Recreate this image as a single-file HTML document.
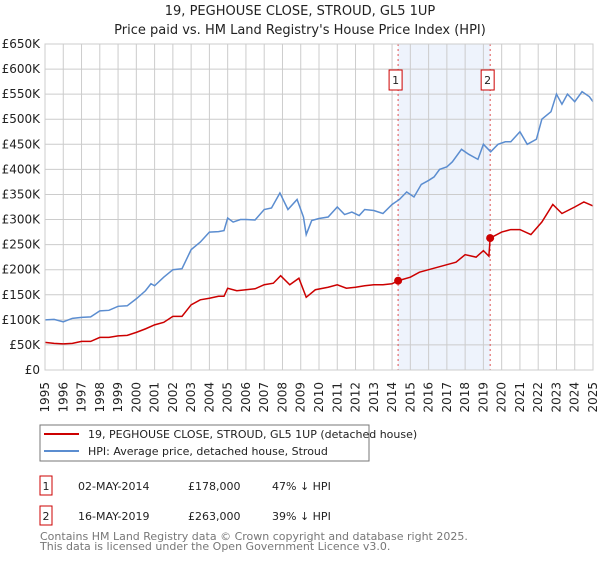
<!DOCTYPE html>
<html><head><meta charset="utf-8"><style>
body{margin:0;background:#fff;width:600px;height:560px;overflow:hidden;font-family:"DejaVu Sans","Liberation Sans",sans-serif}
svg text{font-family:"DejaVu Sans","Liberation Sans",sans-serif}
</style></head><body>
<svg id="chart" width="600" height="560">
<text x="300" y="15" text-anchor="middle" font-size="13" fill="#222">19, PEGHOUSE CLOSE, STROUD, GL5 1UP</text>
<text x="300" y="34" text-anchor="middle" font-size="13" fill="#222">Price paid vs. HM Land Registry's House Price Index (HPI)</text>
<g id="plot"></g>
<rect x="40" y="425" width="329" height="36" fill="#fff" stroke="#777"/>
<line x1="44" y1="434" x2="79" y2="434" stroke="#cc0000" stroke-width="2"/>
<text x="88" y="438" font-size="11" fill="#222">19, PEGHOUSE CLOSE, STROUD, GL5 1UP (detached house)</text>
<line x1="44" y1="451" x2="79" y2="451" stroke="#5b8dd0" stroke-width="2"/>
<text x="88" y="455" font-size="11" fill="#222">HPI: Average price, detached house, Stroud</text>
<g>
<rect x="40" y="476" width="12" height="19" fill="#fff" stroke="#cc0000"/>
<text x="46" y="490" text-anchor="middle" font-size="11" fill="#222">1</text>
<text x="78" y="490" font-size="11" fill="#222">02-MAY-2014</text>
<text x="188" y="490" font-size="11" fill="#222">£178,000</text>
<text x="272" y="490" font-size="11" fill="#222">47% ↓ HPI</text>
</g>
<g>
<rect x="40" y="506" width="12" height="19" fill="#fff" stroke="#cc0000"/>
<text x="46" y="520" text-anchor="middle" font-size="11" fill="#222">2</text>
<text x="78" y="520" font-size="11" fill="#222">16-MAY-2019</text>
<text x="188" y="520" font-size="11" fill="#222">£263,000</text>
<text x="272" y="520" font-size="11" fill="#222">39% ↓ HPI</text>
</g>
<text x="40" y="540" font-size="11" fill="#777">Contains HM Land Registry data © Crown copyright and database right 2025.</text>
<text x="40" y="550" font-size="11" fill="#777">This data is licensed under the Open Government Licence v3.0.</text>
</svg>
<script>
const yTicks=[0,50,100,150,200,250,300,350,400,450,500,550,600,650];
const yTickLabels=["£0","£50K","£100K","£150K","£200K","£250K","£300K","£350K","£400K","£450K","£500K","£550K","£600K","£650K"];
const years=[1995,1996,1997,1998,1999,2000,2001,2002,2003,2004,2005,2006,2007,2008,2009,2010,2011,2012,2013,2014,2015,2016,2017,2018,2019,2020,2021,2022,2023,2024,2025];
const hpiT=[1995,1995.5,1996,1996.5,1997,1997.5,1998,1998.5,1999,1999.5,2000,2000.5,2000.8,2001,2001.5,2002,2002.5,2003,2003.5,2004,2004.5,2004.8,2005,2005.3,2005.7,2006,2006.5,2007,2007.4,2007.86,2008.3,2008.8,2009.15,2009.3,2009.6,2010,2010.5,2011,2011.4,2011.8,2012.2,2012.5,2013,2013.5,2014,2014.4,2014.8,2015.2,2015.6,2016,2016.3,2016.6,2017,2017.3,2017.8,2018.2,2018.7,2019,2019.4,2019.8,2020.2,2020.5,2021,2021.4,2021.9,2022.2,2022.7,2023,2023.3,2023.6,2024,2024.4,2024.8,2025];
const hpiV=[100,101,96,103,105,106,118,119,127,128,142,158,172,168,185,200,202,240,255,275,276,278,303,295,300,300,299,320,323,353,320,340,305,270,298,302,305,325,310,315,308,320,318,312,330,340,355,345,370,378,385,400,405,415,440,430,420,450,435,450,455,455,475,450,460,500,515,550,530,550,535,555,545,535];
const ppT=[1995,1995.5,1996,1996.5,1997,1997.5,1998,1998.5,1999,1999.5,2000,2000.5,2001,2001.5,2002,2002.5,2003,2003.5,2004,2004.5,2004.8,2005,2005.5,2006,2006.5,2007,2007.5,2007.9,2008.4,2008.9,2009.3,2009.8,2010.5,2011,2011.5,2012,2012.5,2013,2013.5,2014,2014.33,2015,2015.5,2016,2016.5,2017,2017.5,2018,2018.6,2019.0,2019.3,2019.37,2020,2020.5,2021,2021.6,2022.2,2022.8,2023.3,2024,2024.5,2025];
const ppV=[55,53,52,53,57,57,65,65,68,69,75,82,90,95,107,107,130,140,143,147,147,163,158,160,162,170,173,188,170,183,145,160,165,170,163,165,168,170,170,172,178,185,195,200,205,210,215,230,225,238,227,263,275,280,280,270,295,330,312,325,335,327];
const sales=[[2014.33,178,"1"],[2019.37,263,"2"]];
const X0=45,X1=593,Y0=370,Y1=44;
const xs=t=>X0+(t-1995)/30*(X1-X0);
const ys=v=>Y0-v/650*(Y0-Y1);
const NS="http://www.w3.org/2000/svg";
const g=document.getElementById('plot');
function mk(tag,attrs,parent){const e=document.createElementNS(NS,tag);for(const k in attrs)e.setAttribute(k,attrs[k]);(parent||g).appendChild(e);return e;}
let e=mk('rect',{x:xs(sales[0][0]),y:Y1,width:xs(sales[1][0])-xs(sales[0][0]),height:Y0-Y1,fill:'#eef3fc'});


yTicks.forEach((v,i)=>{
 let l=mk('line',{x1:X0,x2:X1,y1:ys(v),y2:ys(v),stroke:'#ccc'});
 
 
 let t=mk('text',{x:X0-5,y:ys(v)+4,'text-anchor':'end','font-size':12,fill:'#222'});
 t.textContent=yTickLabels[i];
 
 
});
years.forEach(y=>{
 let l=mk('line',{x1:xs(y),x2:xs(y),y1:Y1,y2:Y0,stroke:'#ccc'});
 
 
 let t=mk('text',{x:0,y:0,'text-anchor':'end','font-size':12,fill:'#222',transform:`translate(${xs(y)+4},382) rotate(-90)`});
 t.textContent=y;
 
 
});
sales.forEach(s=>{
 let l=mk('line',{x1:xs(s[0]),x2:xs(s[0]),y1:Y1,y2:Y0,stroke:'#e05050','stroke-dasharray':'2,3'});
 
 
 let r=mk('rect',{x:xs(s[0])-9,y:70,width:13,height:20,fill:'#fff',stroke:'#cc0000'});
 
 
 let t=mk('text',{x:xs(s[0])-2.5,y:84,'text-anchor':'middle','font-size':11,fill:'#222'});
 t.textContent=s[2];
 
 
});
let p1=mk('polyline',{points:hpiT.map((t,i)=>xs(t)+','+ys(hpiV[i])).join(' '),fill:'none',stroke:'#5b8dd0','stroke-width':1.5});


let p2=mk('polyline',{points:ppT.map((t,i)=>xs(t)+','+ys(ppV[i])).join(' '),fill:'none',stroke:'#cc0000','stroke-width':1.5});


sales.forEach(s=>{
 let c=mk('circle',{cx:xs(s[0]),cy:ys(s[1]),r:4,fill:'#cc0000'});
 
 
});
let b=mk('rect',{x:X0,y:Y1,width:X1-X0,height:Y0-Y1,fill:'none',stroke:'#ccc'});


</script>
</body></html>
